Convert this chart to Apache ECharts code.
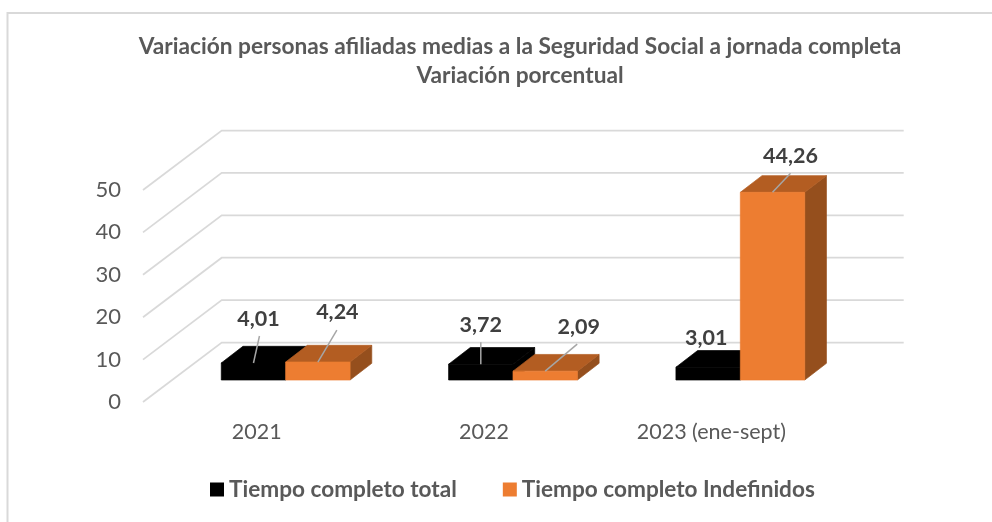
<!DOCTYPE html>
<html><head><meta charset="utf-8">
<style>html,body{margin:0;padding:0;background:#fff}#c{width:992px;height:522px}</style>
<script src="https://cdn.jsdelivr.net/npm/echarts@6/dist/echarts.min.js"></script>
</head><body><div id="c"></div>
<script>
const categories = ['2021', '2022', '2023 (ene-sept)'];
const totalName = 'Tiempo completo total';
const indefName = 'Tiempo completo Indefinidos';
const totalValues = [4.01, 3.72, 3.01];
const indefValues = [4.24, 2.09, 44.26];
const yTicks = [0, 10, 20, 30, 40, 50];
const titleText = 'Variación personas afiliadas medias a la Seguridad Social a jornada completa\nVariación porcentual';

// Presentation constants
const FONT = 'Lato';
const GREY = '#595959';
const DEPTH_X = 78.7, DEPTH_Y = 59.5;      // wall depth
const BAR_DX = 29, BAR_DY = 22;            // bars' front plane relative to the axis plane
const BAR_W = 64.4, BAR_DEPTH_X = 21.7, BAR_DEPTH_Y = 16.7;
const totalNotes = [
  {label: [5, -44], leader: [6, -27]},
  {label: [0, -39.5], leader: [0, -22]},
  {label: [-2, -29], leader: null}
];
const indefNotes = [
  {label: [19.5, -50], leader: [19, -32]},
  {label: [33.5, -44], leader: [32, -27]},
  {label: [18, -36], leader: [18, -19]}
];
const fmt = v => v.toFixed(2).replace('.', ',');

function poly(points, fill) {
  return {type: 'polygon', shape: {points}, style: {fill, stroke: fill, lineWidth: 0.7}};
}
function barItem(side, notes, colors) {
  return function (params, api) {
    const i = api.value(0), v = api.value(1);
    const top = api.coord([i, v]), base = api.coord([i, 0]);
    const x0 = top[0] + BAR_DX + (side === 0 ? -BAR_W : 0), x1 = x0 + BAR_W;
    const yT = top[1] - BAR_DY, yB = base[1] - BAR_DY;
    const dx = BAR_DEPTH_X, dy = BAR_DEPTH_Y;
    const children = [
      poly([[x1, yT], [x1 + dx, yT - dy], [x1 + dx, yB - dy], [x1, yB]], colors.side),
      poly([[x0, yT], [x0 + dx, yT - dy], [x1 + dx, yT - dy], [x1, yT]], colors.top),
      poly([[x0, yT], [x1, yT], [x1, yB], [x0, yB]], colors.front)
    ];
    const cx = (x0 + x1) / 2, n = notes[i];
    if (n.leader) children.push({type: 'line', shape: {x1: cx, y1: yT, x2: cx + n.leader[0], y2: yT + n.leader[1]},
      style: {stroke: '#a6a6a6', lineWidth: 1.5}});
    children.push({type: 'text', x: cx + n.label[0], y: yT + n.label[1],
      style: {text: fmt(v), fill: '#404040', font: 'bold 21.5px ' + FONT, textAlign: 'center', textVerticalAlign: 'middle'}});
    return {type: 'group', children};
  };
}
const blackC = {front: '#000000', top: '#000000', side: '#000000'};
const orangeC = {front: '#ED7D31', top: '#B35D22', side: '#954F1D'};

const chart = echarts.init(document.getElementById('c'), null, {renderer: 'canvas'});
chart.setOption({
  animation: false,
  backgroundColor: '#ffffff',
  title: {text: titleText, left: 515, top: 27, textAlign: 'center',
    textStyle: {fontFamily: FONT, fontSize: 22.7, fontWeight: 'bold', color: GREY, lineHeight: 29}},
  legend: {left: 205, top: 473, icon: 'rect', itemWidth: 14, itemHeight: 14, itemGap: 46,
    data: [totalName, indefName],
    textStyle: {fontFamily: FONT, fontSize: 22.6, fontWeight: 'bold', color: GREY}},
  grid: {left: 143, right: 167, top: 190, bottom: 120},
  xAxis: {type: 'category', data: categories, axisLine: {show: false}, axisTick: {show: false},
    axisLabel: {margin: 19, fontFamily: FONT, fontSize: 21.5, color: GREY}},
  yAxis: {type: 'value', min: 0, max: 50, interval: 10, axisLine: {show: false}, axisTick: {show: false},
    splitLine: {show: false},
    axisLabel: {margin: 22, fontFamily: FONT, fontSize: 22, color: GREY}},
  graphic: [
    {type: 'polyline', silent: true, shape: {points: [[7.5, 522], [7.5, 13], [992, 13]]},
     style: {fill: 'none', stroke: '#d9d9d9', lineWidth: 2}}
  ],
  series: [
    {type: 'custom', silent: true, clip: false, z: 1, data: yTicks.map(t => [0, t]), encode: {x: 0, y: 1},
     renderItem(params, api) {
       const c = params.coordSys, y = api.coord([0, api.value(1)])[1];
       return {type: 'polyline',
         shape: {points: [[c.x, y], [c.x + DEPTH_X, y - DEPTH_Y], [c.x + c.width + DEPTH_X, y - DEPTH_Y]]},
         style: {fill: 'none', stroke: '#d9d9d9', lineWidth: 1.75}};
     }},
    {type: 'custom', name: totalName, silent: true, clip: false, z: 2, itemStyle: {color: '#000000'},
     data: totalValues.map((v, i) => [i, v]), encode: {x: 0, y: 1}, renderItem: barItem(0, totalNotes, blackC)},
    {type: 'custom', name: indefName, silent: true, clip: false, z: 3, itemStyle: {color: '#ED7D31'},
     data: indefValues.map((v, i) => [i, v]), encode: {x: 0, y: 1}, renderItem: barItem(1, indefNotes, orangeC)}
  ]
});
</script></body></html>
